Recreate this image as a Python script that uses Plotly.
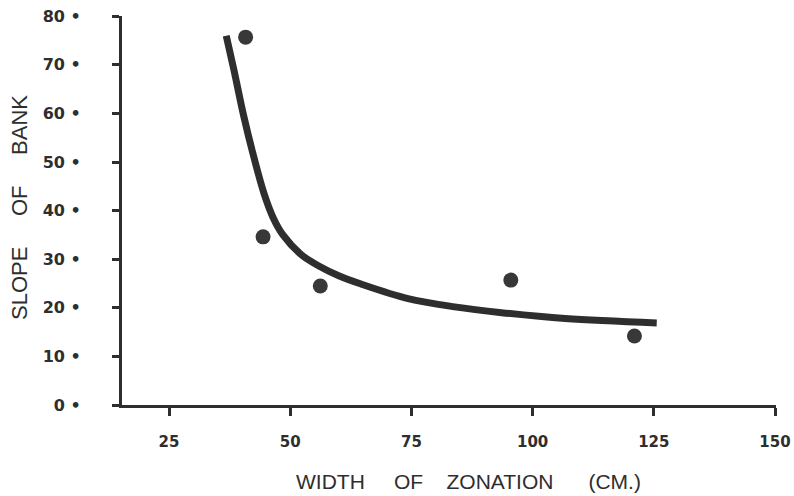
import plotly.graph_objects as go

# Observed points (width of zonation cm, slope of bank degrees)
obs_width = [40.8, 44.4, 56.2, 95.5, 121.0]
obs_slope = [75.7, 34.6, 24.5, 25.7, 14.2]

# Fitted curve
curve_width = [36.8, 38.4, 40.4, 42.5, 44.6, 46.5, 48.5, 52.2, 55.9, 60.0, 64.6, 74.3, 83.9, 93.6, 106.7, 125.6]
curve_slope = [76.0, 68.9, 59.5, 51.0, 43.5, 38.5, 35.0, 31.0, 28.6, 26.6, 24.9, 21.9, 20.2, 19.0, 17.8, 16.9]

x_ticks = [25, 50, 75, 100, 125, 150]
y_ticks = [0, 10, 20, 30, 40, 50, 60, 70, 80]
y_ticktext = [f"{v}\u00a0•" for v in y_ticks]

ink = "#2e2e2e"
nb = "\u00a0"

fig = go.Figure()
fig.add_trace(go.Scatter(
    x=curve_width, y=curve_slope, mode="lines",
    line=dict(color=ink, width=7, shape="spline", smoothing=1.0),
    hoverinfo="skip", showlegend=False))
fig.add_trace(go.Scatter(
    x=obs_width, y=obs_slope, mode="markers",
    marker=dict(color="#383838", size=15, line=dict(width=0)),
    showlegend=False))

fig.update_layout(
    width=794, height=496,
    margin=dict(l=122, r=18, t=16, b=91),
    paper_bgcolor="white", plot_bgcolor="white",
    font=dict(family="DejaVu Sans", color=ink),
    xaxis=dict(range=[15.3, 150.2], tickvals=x_ticks, showgrid=False, zeroline=False,
               automargin=False, ticklabeloverflow="allow",
               showline=True, linecolor=ink, linewidth=3,
               ticks="outside", ticklen=8, tickwidth=3, tickcolor=ink,
               tickfont=dict(family="DejaVu Sans", size=15, color=ink, weight="bold"),
               ticklabelstandoff=13),
    yaxis=dict(range=[0, 80.05], tickvals=y_ticks, ticktext=y_ticktext, showgrid=False, zeroline=False,
               automargin=False, ticklabeloverflow="allow",
               showline=True, linecolor=ink, linewidth=3,
               ticks="outside", ticklen=7, tickwidth=3, tickcolor=ink,
               tickfont=dict(family="DejaVu Sans", size=16, color=ink, weight="bold"),
               ticklabelstandoff=28),
    annotations=[
        dict(text=f"WIDTH{nb*5}OF{nb*4}ZONATION{nb*6}(CM.)",
             xref="paper", yref="paper", x=(468 - 122) / 654, y=(405 - 481) / 389,
             showarrow=False, xanchor="center", yanchor="middle",
             font=dict(family="Liberation Sans", size=21, color=ink)),
        dict(text=f"SLOPE{nb*5}OF{nb*5}BANK",
             xref="paper", yref="paper", x=(19 - 122) / 654, y=(405 - 208) / 389,
             showarrow=False, textangle=-90, xanchor="center", yanchor="middle",
             font=dict(family="Liberation Sans", size=22, color=ink)),
    ],
)

fig.write_html("out.html")
